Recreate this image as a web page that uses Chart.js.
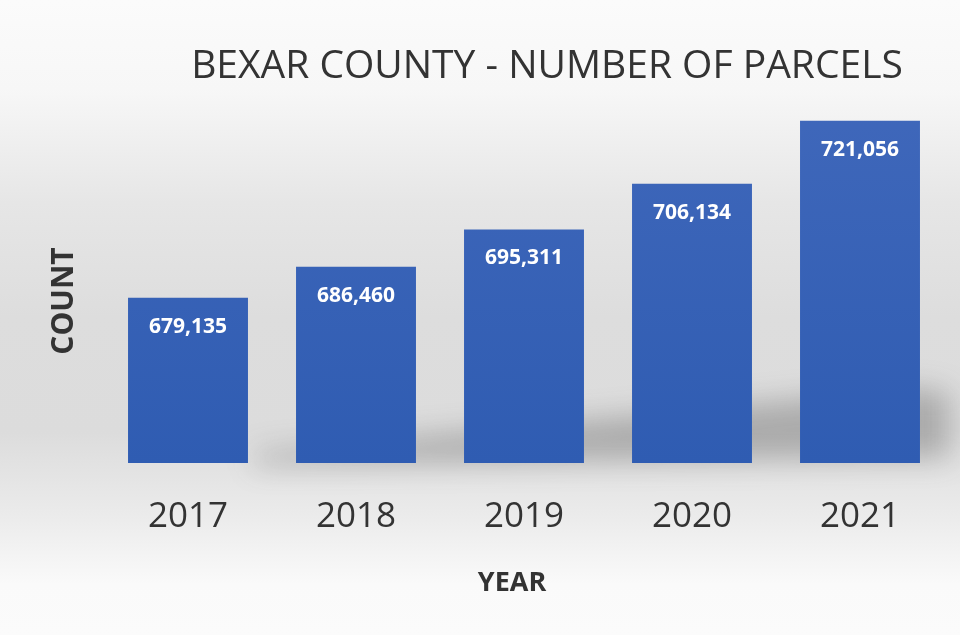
<!DOCTYPE html>
<html>
<head>
<meta charset="utf-8">
<script src="https://cdn.jsdelivr.net/npm/chart.js@4/dist/chart.umd.min.js"></script>
<style>
  html, body { margin: 0; padding: 0; }
  body {
    width: 960px;
    height: 635px;
    overflow: hidden;
    background: linear-gradient(to bottom,
      #fbfbfb 0%, #f7f7f7 14%, #e6e6e6 32%, #dddddd 50%,
      #dcdcdc 68%, #ececec 82%, #fafafa 92%, #fbfbfb 100%);
  }
  #wrap { position: relative; width: 960px; height: 635px; }
</style>
</head>
<body>
<div id="wrap"><canvas id="chart" width="960" height="635"></canvas></div>
<script>
const years = ['2017', '2018', '2019', '2020', '2021'];
const parcels = [679135, 686460, 695311, 706134, 721056];
const axisRange = [640000, 730000];

const titleText = 'BEXAR COUNTY - NUMBER OF PARCELS';
const xTitle = 'YEAR';
const yTitle = 'COUNT';

// soft shadow band behind the bars
const shadowBand = {
    id: 'shadowBand',
    beforeDatasetsDraw(chart) {
        const { ctx, chartArea } = chart;
        ctx.save();
        ctx.filter = 'blur(14px)';
        ctx.fillStyle = 'rgba(60,60,60,0.30)';
        ctx.beginPath();
        ctx.moveTo(chartArea.left + 150, chartArea.bottom - 10);
        ctx.lineTo(chartArea.right - 30, chartArea.bottom - 75);
        ctx.lineTo(chartArea.right + 5, chartArea.bottom - 70);
        ctx.lineTo(chartArea.right + 5, chartArea.bottom - 5);
        ctx.lineTo(chartArea.left + 150, chartArea.bottom + 2);
        ctx.closePath();
        ctx.fill();
        ctx.restore();
    }
};

// value labels inside the top of each bar
const barValues = {
    id: 'barValues',
    afterDatasetsDraw(chart) {
        const { ctx } = chart;
        const meta = chart.getDatasetMeta(0);
        ctx.save();
        ctx.fillStyle = '#ffffff';
        ctx.font = 'bold 21px "Open Sans"';
        ctx.textAlign = 'center';
        ctx.textBaseline = 'middle';
        meta.data.forEach((bar, i) => {
            ctx.fillText(parcels[i].toLocaleString('en-US'), bar.x, bar.y + 29);
        });
        ctx.restore();
    }
};

// heading and axis captions, placed off the plot centre
const captions = {
    id: 'captions',
    afterDraw(chart) {
        const { ctx } = chart;
        ctx.save();
        ctx.fillStyle = '#333333';
        ctx.textAlign = 'center';
        ctx.textBaseline = 'middle';

        ctx.font = '39px "Open Sans"';
        ctx.fillText(titleText, 547, 67);

        ctx.font = 'bold 27px "Open Sans"';
        ctx.fillText(xTitle, 512, 583);

        ctx.translate(64, 301);
        ctx.rotate(-Math.PI / 2);
        ctx.font = 'bold 30px "Open Sans"';
        ctx.fillText(yTitle, 0, 0);
        ctx.restore();
    }
};

const ctxEl = document.getElementById('chart');
new Chart(ctxEl.getContext('2d'), {
    type: 'bar',
    data: {
        labels: years,
        datasets: [{
            label: 'Parcels',
            data: parcels,
            backgroundColor: (c) => {
                const area = c.chart.chartArea;
                if (!area) return '#3a63b8';
                const g = c.chart.ctx.createLinearGradient(0, area.top, 0, area.bottom);
                g.addColorStop(0, '#4068bb');
                g.addColorStop(1, '#2f5cb2');
                return g;
            },
            borderWidth: 0,
            barPercentage: 0.714,
            categoryPercentage: 1
        }]
    },
    plugins: [shadowBand, barValues, captions],
    options: {
        responsive: false,
        animation: false,
        devicePixelRatio: 1,
        layout: {
            padding: { top: 83, left: 104, right: 16, bottom: 20 }
        },
        plugins: {
            legend: { display: false },
            tooltip: { enabled: false }
        },
        scales: {
            x: {
                grid: { display: false, drawTicks: false },
                border: { display: false },
                ticks: {
                    color: '#333333',
                    padding: 33,
                    font: { family: 'Open Sans', size: 35 }
                },
                afterFit(scale) { scale.height = 152; }
            },
            y: {
                display: false,
                min: axisRange[0],
                max: axisRange[1]
            }
        }
    }
});
</script>
</body>
</html>
